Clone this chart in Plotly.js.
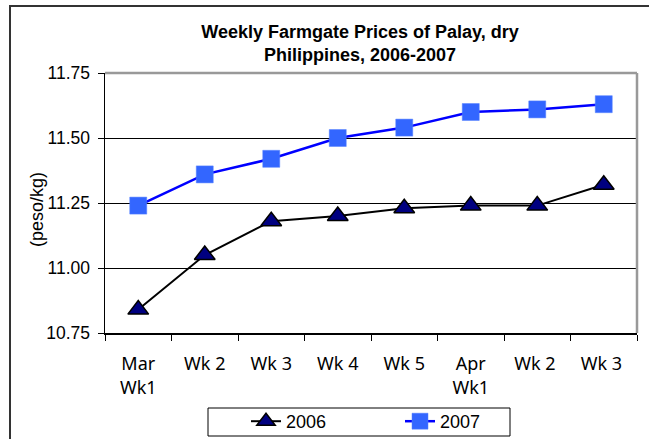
<!DOCTYPE html>
<html>
<head>
<meta charset="utf-8">
<script src="https://cdn.plot.ly/plotly-3.0.1.min.js"></script>
<style>html,body{margin:0;padding:0;background:#fff;}#chart{width:649px;height:439px;}</style>
</head>
<body>
<div id="chart"></div>
<script>
var weeks = ["Mar<br>Wk1", "Wk 2", "Wk 3", "Wk 4", "Wk 5", "Apr<br>Wk1", "Wk 2 ", "Wk 3 "];
var prices2006 = [10.84, 11.05, 11.18, 11.20, 11.23, 11.24, 11.24, 11.32];
var prices2007 = [11.24, 11.36, 11.42, 11.50, 11.54, 11.60, 11.61, 11.63];
var yTicks = [10.75, 11.00, 11.25, 11.50, 11.75];

var L = 105, R = 637, T = 73, B = 333, W = 649, H = 439;
function px(x){ return (x - L) / (R - L); }
function py(y){ return (B - y) / (B - T); }
var FONT = "Liberation Sans, Arial, sans-serif";

var traces = [
  {x: weeks, y: prices2006, name: "2006", type: "scatter", mode: "lines+markers",
   line: {color: "#000000", width: 2},
   marker: {symbol: "triangle-up", size: 18, color: "#000080", line: {color: "#000000", width: 1.5}}},
  {x: weeks, y: prices2007, name: "2007", type: "scatter", mode: "lines+markers",
   line: {color: "#0000FF", width: 2.5},
   marker: {symbol: "square", size: 17, color: "#3366FF", line: {color: "#5580FF", width: 0.5}}}
];

var layout = {
  width: W, height: H,
  margin: {l: L, r: W - R, t: T, b: H - B, autoexpand: false},
  paper_bgcolor: "#ffffff", plot_bgcolor: "#ffffff",
  showlegend: true,
  title: {text: "<b>Weekly Farmgate Prices of Palay, dry<br>Philippines, 2006-2007</b>",
          font: {family: FONT, size: 18, color: "#000"},
          x: 360 / W, xref: "container", y: 1 - 38 / H, yref: "container", xanchor: "center", yanchor: "top"},
  xaxis: {type: "category", range: [-0.5, 7.5], fixedrange: true,
          tickson: "boundaries", ticks: "outside", ticklen: 6, tickcolor: "#000", tickwidth: 1,
          showline: true, linecolor: "#000", linewidth: 1.5, showgrid: false,
          tickfont: {family: "Noto Sans, sans-serif", size: 18, color: "#000"},
          ticklabelstandoff: 14},
  yaxis: {range: [10.75, 11.75], tickvals: yTicks, ticktext: yTicks.map(function(v){return v.toFixed(2);}),
          ticks: "outside", ticklen: 6, tickcolor: "#000", tickwidth: 1,
          showline: true, linecolor: "#000", linewidth: 1.5,
          showgrid: true, gridcolor: "#000", gridwidth: 1, zeroline: false,
          tickfont: {family: FONT, size: 17.5, color: "#000"},
          ticklabelstandoff: 4},
  legend: {orientation: "h", xref: "container", yref: "container",
           x: 246 / W, xanchor: "left", y: 1 - 403 / H, yanchor: "top",
           borderwidth: 0, bgcolor: "rgba(0,0,0,0)",
           font: {family: FONT, size: 18, color: "#000"},
           entrywidth: 109, entrywidthmode: "pixels", itemwidth: 30},
  annotations: [
    {text: "(peso/kg)", xref: "paper", yref: "paper", x: px(37), y: py(210), showarrow: false,
     textangle: -90, xanchor: "center", yanchor: "middle", font: {family: FONT, size: 18, color: "#000"}}
  ],
  shapes: [
    {type: "line", xref: "paper", yref: "paper", x0: 0, x1: 1, y0: 1, y1: 1, line: {color: "#999", width: 2.5}},
    {type: "line", xref: "paper", yref: "paper", x0: 1, x1: 1, y0: 0, y1: 1, line: {color: "#999", width: 2.5}},
    {type: "rect", xref: "paper", yref: "paper", x0: px(208), x1: px(510), y0: py(408), y1: py(436), line: {color: "#000", width: 1}},
    {type: "rect", xref: "paper", yref: "paper", x0: px(10), x1: px(700), y0: py(6), y1: py(500), line: {color: "#333", width: 2}}
  ]
};

Plotly.newPlot("chart", traces, layout, {displayModeBar: false, staticPlot: true});
</script>
</body>
</html>
